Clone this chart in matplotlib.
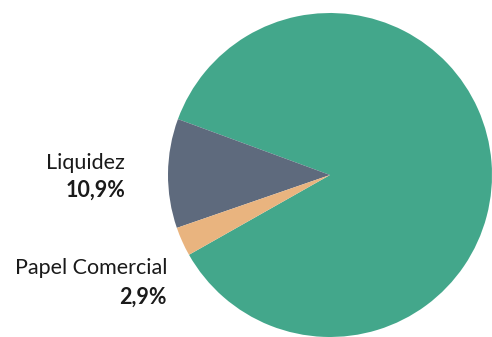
import matplotlib.pyplot as plt

# slice data (green slice has no label in the picture)
categories = ["Outros", "Liquidez", "Papel Comercial"]
values = [86.2, 10.9, 2.9]
colors = ["#43a78b", "#5e6a7d", "#e9b47f"]

fig = plt.figure(figsize=(4.92, 3.37), dpi=100)
ax = fig.add_axes([0, 0, 1, 1])

ax.pie(values, colors=colors, startangle=209.5, counterclock=True,
       radius=1.0, center=(0, 0), wedgeprops=dict(linewidth=0))

# pixel layout: centre at (330,175), radius 162 px
ax.set_xlim(-330 / 162, (492 - 330) / 162)
ax.set_ylim(-(337 - 175) / 162, 175 / 162)
ax.set_aspect("auto")
ax.axis("off")

def pct(v):
    return f"{v:.1f}".replace(".", ",") + "%"

label_pos = {
    "Liquidez": (-1.265, 0.074, -0.093),
    "Papel Comercial": (-1.006, -0.574, -0.753),
}
for name, v in zip(categories, values):
    if name not in label_pos:
        continue
    x, y1, y2 = label_pos[name]
    ax.text(x, y1, name, ha="right", va="center", fontsize=15.5,
            family="Lato", color="#1a1a1a")
    ax.text(x, y2, pct(v), ha="right", va="center", fontsize=15.5,
            family="Lato", fontweight="bold", color="#1a1a1a")

fig.savefig("out.png", dpi=100)
